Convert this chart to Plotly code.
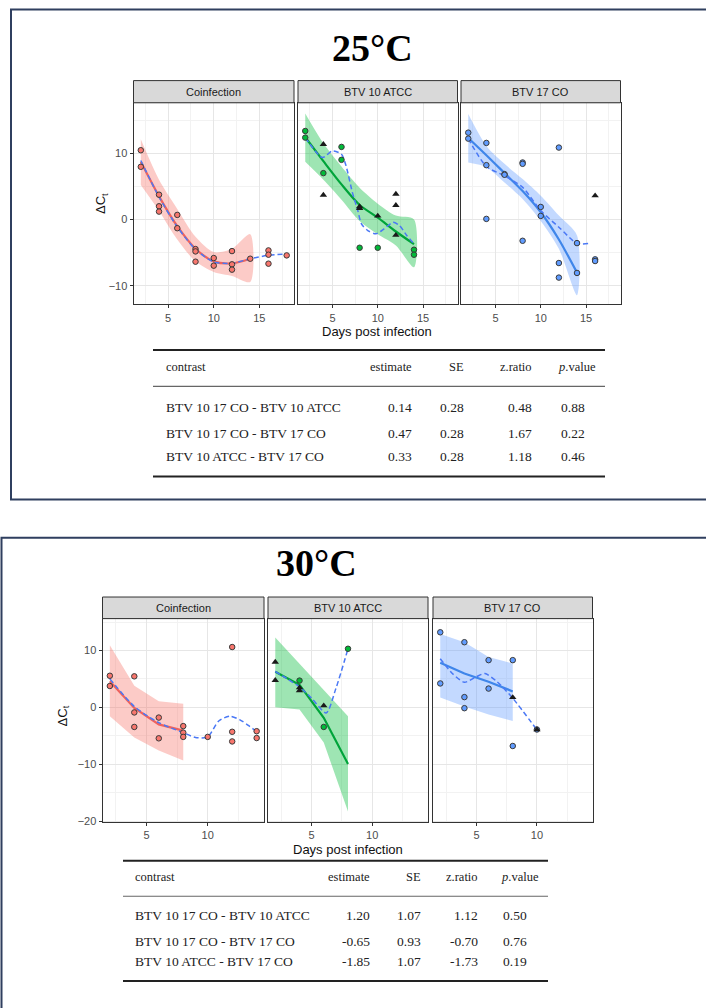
import plotly.graph_objects as go

W, H = 706, 1008

# ================= DATA =================
# ---------- 25 °C ----------
# Coinfection
c25_pts_x = [2, 2, 4, 4, 4, 6, 6, 8, 8, 8, 10, 10, 12, 12, 12, 14, 16, 16, 16, 18]
c25_pts_y = [10.45, 7.95, 3.75, 2.0, 1.2, 0.7, -1.3, -4.45, -4.8, -6.35, -5.8, -6.95,
             -4.75, -6.75, -7.55, -5.9, -4.65, -5.3, -6.65, -5.4]
c25_fit_x = [2, 4, 6, 8, 10, 12, 14]
c25_fit = [8.7, 3.5, -1.0, -4.4, -6.3, -6.6, -5.9]
c25_hi = [12.1, 6.0, 1.6, -2.6, -4.9, -4.4, -2.2]
c25_lo = [5.2, 1.3, -3.0, -6.3, -7.9, -8.5, -9.4]
c25_dash_x = [2, 4, 6, 8, 10, 12, 14, 16, 18]
c25_dash = [8.9, 3.4, -1.1, -4.5, -6.4, -6.6, -5.9, -5.4, -5.2]

# BTV 10 ATCC
a25_circ_x = [2, 2, 4, 6, 6, 8, 10, 14, 14]
a25_circ_y = [13.35, 12.35, 7.0, 10.95, 9.0, -4.25, -4.25, -4.55, -5.3]
a25_tri_x = [4, 4, 8, 8, 10, 12, 12, 12]
a25_tri_y = [11.35, 3.7, 1.95, 1.7, 0.55, 3.85, 2.15, -2.35]
a25_fit_x = [2, 4, 6, 8, 10, 12, 14]
a25_fit = [12.4, 8.8, 5.3, 2.2, 0.3, -1.8, -3.7]
a25_hi = [16.0, 11.5, 8.0, 4.8, 2.4, 0.6, 0.0]
a25_lo = [8.7, 6.0, 3.0, -0.2, -2.2, -3.9, -7.2]
a25_dash_x = [2, 3.9, 5, 6, 6.5, 7.2, 7.8, 8.2, 8.9, 9.8, 10.7, 11.7, 12.4, 13.2, 14]
a25_dash = [12.35, 9.35, 10.35, 9.85, 8.1, 4.1, 1.35, -0.65, -1.65, -2.15, -1.4, -0.4,
            -0.9, -2.4, -3.65]

# BTV 17 CO
b25_circ_x = [2, 2, 4, 4, 4, 6, 6, 8, 8, 8, 10, 10, 12, 12, 12, 14, 14, 16, 16]
b25_circ_y = [13.1, 12.2, 11.55, 8.2, 0.1, 6.85, 6.75, 8.6, 8.4, -3.2, 1.9, 0.55,
              10.85, -6.55, -8.75, -3.55, -8.05, -6.0, -6.25]
b25_tri_x = [16]
b25_tri_y = [3.6]
b25_fit_x = [2, 4, 6, 8, 10, 12, 14]
b25_fit = [12.3, 9.7, 7.0, 4.3, 1.1, -3.0, -8.0]
b25_hi = [15.9, 11.1, 8.4, 6.1, 3.6, 0.6, -2.4]
b25_lo = [8.6, 7.9, 5.6, 3.1, -0.2, -4.4, -11.4]
b25_dash_x = [2, 4, 6, 8, 10, 12, 14, 15.3]
b25_dash = [12.2, 8.0, 6.6, 4.85, 1.35, -1.15, -3.6, -3.6]

# ---------- 30 °C ----------
c30_pts_x = [2, 2, 4, 4, 4, 6, 6, 8, 8, 8, 10, 12, 12, 12, 14, 14]
c30_pts_y = [5.55, 3.75, 5.45, -0.9, -3.45, -1.8, -5.45, -3.3, -4.45, -5.2, -5.2,
             10.6, -4.3, -6.0, -4.2, -5.4]
c30_fit_x = [2, 4, 6, 8]
c30_fit = [4.6, -0.1, -3.0, -4.1]
c30_hi = [10.9, 3.8, 1.05, 0.65]
c30_lo = [-1.55, -5.3, -7.6, -9.35]
c30_dash_x = [2, 4, 6, 8, 9, 10, 10.9, 11.8, 12.6, 13.4, 14]
c30_dash = [5.0, 0.15, -2.7, -4.45, -5.3, -5.2, -2.4, -1.55, -2.15, -3.3, -4.3]

a30_circ_x = [4, 6, 8]
a30_circ_y = [4.7, -3.45, 10.3]
a30_tri_x = [2, 2, 4, 4, 6]
a30_tri_y = [7.95, 4.75, 3.45, 2.95, 0.3]
a30_fit_x = [2, 4, 6, 8]
a30_fit = [6.25, 3.95, -1.85, -9.95]
a30_hi = [12.3, 7.7, 3.05, -1.55]
a30_lo = [0.0, -0.4, -6.2, -18.3]
a30_dash_x = [2, 3, 4, 5, 6.2, 7, 8]
a30_dash = [6.3, 5.0, 3.6, 1.6, -1.0, 3.3, 10.3]

b30_circ_x = [2, 2, 4, 4, 4, 6, 6, 8, 8, 10]
b30_circ_y = [13.2, 4.2, 11.45, 1.8, -0.15, 8.3, 3.3, 8.3, -6.8, -3.9]
b30_tri_x = [8, 10]
b30_tri_y = [1.75, -3.9]
b30_fit_x = [2, 4, 6, 8]
b30_fit = [7.85, 5.95, 4.5, 2.8]
b30_hi = [12.9, 11.45, 8.85, 7.7]
b30_lo = [1.75, 0.15, -1.25, -2.4]
b30_dash_x = [2, 3, 4, 5, 5.7, 6.7, 8, 10]
b30_dash = [8.55, 5.95, 4.4, 5.4, 5.95, 4.5, 1.6, -3.95]

# ---------- tables ----------
tab_cols = ["contrast", "estimate", "SE", "z.ratio", "<i>p</i>.value"]
contrasts = ["BTV 10 17 CO - BTV 10 ATCC", "BTV 10 17 CO - BTV 17 CO", "BTV 10 ATCC - BTV 17 CO"]
t25_est = ["0.14", "0.47", "0.33"]
t25_se = ["0.28", "0.28", "0.28"]
t25_z = ["0.48", "1.67", "1.18"]
t25_p = ["0.88", "0.22", "0.46"]
t30_est = ["1.20", "-0.65", "-1.85"]
t30_se = ["1.07", "0.93", "1.07"]
t30_z = ["1.12", "-0.70", "-1.73"]
t30_p = ["0.50", "0.76", "0.19"]

strip_names = ["Coinfection", "BTV 10 ATCC", "BTV 17 CO"]

# ================= STYLE / LAYOUT =================
def px(x):
    return x / W

def py(y):
    return 1 - y / H

RED, GREEN, BLUE = "#F8766D", "#00BA38", "#619CFF"
LINE_COL = {"r": "#f0625c", "g": "#00a43a", "b": "#3f86ea"}
RIB_COL = {"r": "rgba(248,118,109,0.38)", "g": "rgba(0,186,56,0.38)", "b": "rgba(97,156,255,0.38)"}
FILL_COL = {"r": RED, "g": GREEN, "b": BLUE}
DASH_COL = "#4a78f5"

panels = [
    # top row (25 °C)
    dict(xd=(133.5, 294), yd=(103.3, 306), xr=[1.2, 18.8], yr=[-12.8, 17.6], left=True),
    dict(xd=(298, 457.5), yd=(103.3, 306), xr=[1.2, 18.8], yr=[-12.8, 17.6], left=False),
    dict(xd=(461, 620.5), yd=(103.3, 306), xr=[1.2, 18.8], yr=[-12.8, 17.6], left=False),
    # bottom row (30 °C)
    dict(xd=(102.5, 264), yd=(621.7, 826.3), xr=[1.4, 14.6], yr=[-20.2, 15.6], left=True),
    dict(xd=(268, 428), yd=(621.7, 826.3), xr=[1.4, 14.6], yr=[-20.2, 15.6], left=False),
    dict(xd=(433, 592.5), yd=(621.7, 826.3), xr=[1.4, 14.6], yr=[-20.2, 15.6], left=False),
]

panel_data = [
    dict(c="r", circ=(c25_pts_x, c25_pts_y), tri=None, fit=(c25_fit_x, c25_fit, c25_lo, c25_hi),
         dash=(c25_dash_x, c25_dash), smooth=True),
    dict(c="g", circ=(a25_circ_x, a25_circ_y), tri=(a25_tri_x, a25_tri_y),
         fit=(a25_fit_x, a25_fit, a25_lo, a25_hi), dash=(a25_dash_x, a25_dash), smooth=True),
    dict(c="b", circ=(b25_circ_x, b25_circ_y), tri=(b25_tri_x, b25_tri_y),
         fit=(b25_fit_x, b25_fit, b25_lo, b25_hi), dash=(b25_dash_x, b25_dash), smooth=True),
    dict(c="r", circ=(c30_pts_x, c30_pts_y), tri=None, fit=(c30_fit_x, c30_fit, c30_lo, c30_hi),
         dash=(c30_dash_x, c30_dash), smooth=False),
    dict(c="g", circ=(a30_circ_x, a30_circ_y), tri=(a30_tri_x, a30_tri_y),
         fit=(a30_fit_x, a30_fit, a30_lo, a30_hi), dash=(a30_dash_x, a30_dash), smooth=False),
    dict(c="b", circ=(b30_circ_x, b30_circ_y), tri=(b30_tri_x, b30_tri_y),
         fit=(b30_fit_x, b30_fit, b30_lo, b30_hi), dash=(b30_dash_x, b30_dash), smooth=False),
]

fig = go.Figure()
layout = dict(width=W, height=H, margin=dict(l=0, r=0, t=0, b=0),
              paper_bgcolor="white", plot_bgcolor="white", showlegend=False)

shapes = []
annotations = []

for i, (p, d) in enumerate(zip(panels, panel_data)):
    n = i + 1
    xa = "x" if n == 1 else f"x{n}"
    ya = "y" if n == 1 else f"y{n}"
    xkey = "xaxis" if n == 1 else f"xaxis{n}"
    ykey = "yaxis" if n == 1 else f"yaxis{n}"
    layout[xkey] = dict(
        domain=[px(p["xd"][0]), px(p["xd"][1])], range=p["xr"], anchor=ya,
        tickmode="linear", tick0=0, dtick=5,
        showgrid=True, gridcolor="#e6e6e6", gridwidth=1,
        minor=dict(dtick=2.5, tick0=0, showgrid=True, gridcolor="#f2f2f2", gridwidth=0.6, ticks=""),
        showline=True, mirror=True, linecolor="#333333", linewidth=1,
        ticks="outside", ticklen=3, tickcolor="#333333", tickwidth=1,
        tickfont=dict(family="Liberation Sans, Arial", size=11, color="#4d4d4d"),
        zeroline=False, fixedrange=True)
    layout[ykey] = dict(
        domain=[py(p["yd"][1]), py(p["yd"][0])], range=p["yr"], anchor=xa,
        tickmode="linear", tick0=0, dtick=10,
        showgrid=True, gridcolor="#e6e6e6", gridwidth=1,
        minor=dict(dtick=5, tick0=0, showgrid=True, gridcolor="#f2f2f2", gridwidth=0.6, ticks=""),
        showline=True, mirror=True, linecolor="#333333", linewidth=1,
        ticks="outside" if p["left"] else "", ticklen=3, tickcolor="#333333", tickwidth=1,
        showticklabels=p["left"],
        tickfont=dict(family="Liberation Sans, Arial", size=11, color="#4d4d4d"),
        zeroline=False, fixedrange=True)

    c = d["c"]
    fx, ff, flo, fhi = d["fit"]
    shape = "spline" if d["smooth"] else "linear"
    # ribbon
    fig.add_trace(go.Scatter(x=list(fx) + list(fx)[::-1], y=list(fhi) + list(flo)[::-1],
                             fill="toself", fillcolor=RIB_COL[c], mode="lines",
                             line=dict(width=0, shape=shape, smoothing=0.8),
                             hoverinfo="skip", xaxis=xa, yaxis=ya))
    # fitted line
    fig.add_trace(go.Scatter(x=fx, y=ff, mode="lines",
                             line=dict(color=LINE_COL[c], width=2.2, shape=shape, smoothing=0.8),
                             xaxis=xa, yaxis=ya))
    # dashed smoother
    dx, dy = d["dash"]
    fig.add_trace(go.Scatter(x=dx, y=dy, mode="lines",
                             line=dict(color=DASH_COL, width=1.5, dash="5px,3px",
                                       shape="spline", smoothing=0.7),
                             xaxis=xa, yaxis=ya))
    # circles
    cx, cy = d["circ"]
    fig.add_trace(go.Scatter(x=cx, y=cy, mode="markers",
                             marker=dict(symbol="circle", size=5.5, color=FILL_COL[c],
                                         line=dict(color="#3a3a3a", width=1)),
                             xaxis=xa, yaxis=ya))
    if d["tri"]:
        tx, ty = d["tri"]
        fig.add_trace(go.Scatter(x=tx, y=ty, mode="markers",
                                 marker=dict(symbol="triangle-up", size=6.5, color="#1a1a1a",
                                             line=dict(width=0)),
                                 xaxis=xa, yaxis=ya))

    # strip
    strip_top = p["yd"][0] - 22.3 if i < 3 else p["yd"][0] - 21.7
    shapes.append(dict(type="rect", xref="paper", yref="paper",
                       x0=px(p["xd"][0]), x1=px(p["xd"][1]),
                       y0=py(p["yd"][0]), y1=py(strip_top),
                       fillcolor="#d9d9d9", line=dict(color="#333333", width=1)))
    annotations.append(dict(xref="paper", yref="paper",
                            x=px((p["xd"][0] + p["xd"][1]) / 2),
                            y=py((p["yd"][0] + strip_top) / 2),
                            text=strip_names[i % 3], showarrow=False,
                            font=dict(family="Liberation Sans, Arial", size=11, color="#1a1a1a"),
                            xanchor="center", yanchor="middle"))

# axis titles
axis_font = dict(family="Liberation Sans, Arial", size=13, color="#111111")
annotations += [
    dict(xref="paper", yref="paper", x=px(377), y=py(333), text="Days post infection",
         showarrow=False, font=axis_font, xanchor="center", yanchor="middle"),
    dict(xref="paper", yref="paper", x=px(347.5), y=py(854), text="Days post infection",
         showarrow=False, font=axis_font, xanchor="center", yanchor="middle"),
    dict(xref="paper", yref="paper", x=px(102), y=py(205), text="ΔC<sub>t</sub>", textangle=-90,
         showarrow=False, font=axis_font, xanchor="center", yanchor="middle"),
    dict(xref="paper", yref="paper", x=px(63), y=py(719), text="ΔC<sub>t</sub>", textangle=-90,
         showarrow=False, font=axis_font, xanchor="center", yanchor="middle"),
]

# titles
title_font = dict(family="Liberation Serif, Times New Roman", size=38, color="#000000")
annotations += [
    dict(xref="paper", yref="paper", x=px(372), y=py(48), text="<b>25°C</b>", showarrow=False,
         font=title_font, xanchor="center", yanchor="middle"),
    dict(xref="paper", yref="paper", x=px(316), y=py(566), text="<b>30°C</b>", showarrow=False,
         font=title_font, xanchor="center", yanchor="middle"),
]

# outer boxes
BOX = "#2f3f5f"
shapes.append(dict(type="rect", xref="paper", yref="paper", x0=px(11), x1=px(730),
                   y0=py(502), y1=py(9.5), line=dict(color=BOX, width=2), fillcolor="rgba(0,0,0,0)"))
shapes.append(dict(type="rect", xref="paper", yref="paper", x0=px(1.5), x1=px(730),
                   y0=py(1030), y1=py(540.5), line=dict(color=BOX, width=2), fillcolor="rgba(0,0,0,0)"))


def add_table(geo, est, se, z, pv):
    tf = dict(family="Liberation Serif, Times New Roman", size=13.5, color="#222222")
    x0, x1 = geo["x0"], geo["x1"]
    for yy, wdt, col in [(geo["top"], 2, "#222222"), (geo["mid"], 1.2, "#666666"),
                         (geo["bot"], 2, "#222222")]:
        shapes.append(dict(type="line", xref="paper", yref="paper", x0=px(x0), x1=px(x1),
                           y0=py(yy), y1=py(yy), line=dict(color=col, width=wdt)))
    cx = geo["cols"]  # (contrast_left, est_right, se_right, z_right, p_left)
    anchors = ["left", "right", "right", "right", "left"]
    hdr_x = [cx[0], cx[1], cx[2], cx[3], geo["p_hdr"]]
    for t, xx, an in zip(tab_cols, hdr_x, anchors):
        annotations.append(dict(xref="paper", yref="paper", x=px(xx), y=py(geo["hdr"]), text=t,
                                showarrow=False, font=dict(tf, size=12.5), xanchor=an,
                                yanchor="middle"))
    for r in range(3):
        vals = [contrasts[r], est[r], se[r], z[r], pv[r]]
        for v, xx, an in zip(vals, cx, anchors):
            annotations.append(dict(xref="paper", yref="paper", x=px(xx), y=py(geo["rows"][r]),
                                    text=v, showarrow=False, font=tf, xanchor=an,
                                    yanchor="middle"))


add_table(dict(x0=153, x1=605, top=351.7, mid=388.3, bot=479, hdr=369,
               rows=[410, 435.7, 458.3], cols=[164, 414, 466, 534, 559], p_hdr=556),
          t25_est, t25_se, t25_z, t25_p)
add_table(dict(x0=123, x1=548, top=865, mid=900.7, bot=986, hdr=881.7,
               rows=[920, 946, 966.7], cols=[133, 371.5, 422.5, 480, 501], p_hdr=499),
          t30_est, t30_se, t30_z, t30_p)

layout["shapes"] = shapes
layout["annotations"] = annotations
fig.update_layout(**layout)
fig.write_html("out.html")
